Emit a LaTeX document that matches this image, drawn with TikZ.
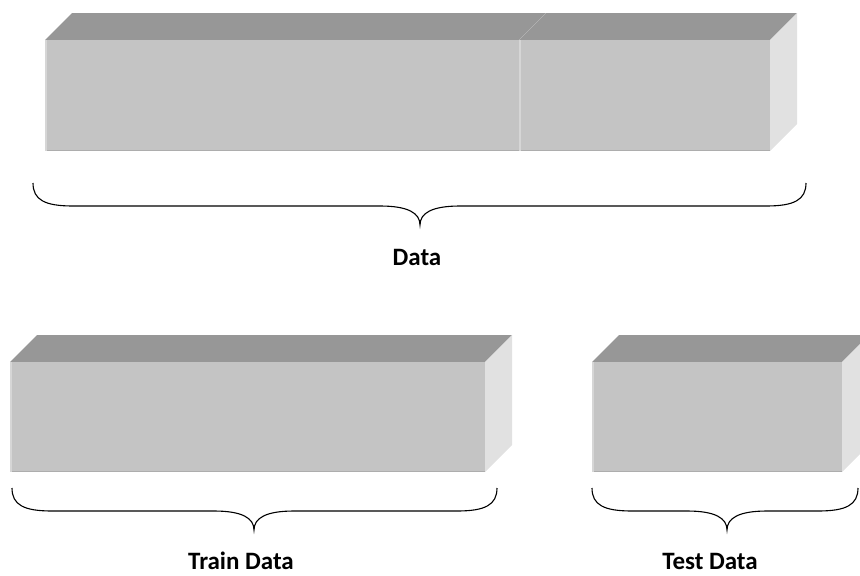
\documentclass[tikz,border=0pt]{standalone}
\usepackage{fontspec}
\setmainfont{Carlito}
\usetikzlibrary{positioning,calc}

\definecolor{frontgray}{HTML}{C4C4C4}
\definecolor{topgray}{HTML}{979797}
\definecolor{sidegray}{HTML}{E1E1E1}
\definecolor{edgedark}{HTML}{ADADAD}
\definecolor{edgelight}{HTML}{D6D6D6}

% cuboid: front face from (#1,#2) to (#3,#4), depth 27
\newcommand{\slab}[4]{%
  \fill[topface]  (#1,#2) -- (#1+27,#2-27) -- (#3+27,#2-27) -- (#3,#2) -- cycle;
  \fill[sideface] (#3,#2) -- (#3+27,#2-27) -- (#3+27,#4-27) -- (#3,#4) -- cycle;
  \fill[frontface] (#1,#2) rectangle (#3,#4);
  \draw[edgedark, line width=1.5pt] (#1,#4-0.75) -- (#3,#4-0.75);
  \draw[edgelight, line width=1.5pt] (#1+0.75,#2) -- (#1+0.75,#4);
}
% horizontal brace opening upwards, tip at #4
\newcommand{\hbrace}[4]{%
  \draw[bracestyle] (#1,#3) .. controls (#1,#3+17) and (#1+12,#3+23) .. (#1+40,#3+23)
    -- (#4-40,#3+23) .. controls (#4-12,#3+23) and (#4,#3+30) .. (#4,#3+42)
    .. controls (#4,#3+30) and (#4+12,#3+23) .. (#4+40,#3+23)
    -- (#2-40,#3+23) .. controls (#2-12,#3+23) and (#2,#3+17) .. (#2,#3);
}

\begin{document}
\begin{tikzpicture}[
    x=1pt, y=-1pt,
    frontface/.style={fill=frontgray},
    topface/.style={fill=topgray},
    sideface/.style={fill=sidegray},
    bracestyle/.style={draw=black, line width=1.1pt},
    lbl/.style={font=\fontsize{25}{30}\selectfont\bfseries, inner sep=0pt}
  ]
  \useasboundingbox (0,0) rectangle (860,576);
  \clip (0,0) rectangle (860,576);

  % whole data set
  \slab{45}{40}{519}{151}
  \slab{519}{40}{770}{151}
  \hbrace{33}{806}{183}{420}
  \node[lbl] (data) at (417,257) {Data};

  % split
  \slab{10}{362}{485}{472}
  \slab{592}{362}{842}{472}
  \hbrace{12}{497}{488}{254}
  \hbrace{592}{858}{488}{727}
  \node[lbl] (train) at (241,561) {Train Data};
  \node[lbl] (test)  at (710,561) {Test Data};
\end{tikzpicture}
\end{document}
